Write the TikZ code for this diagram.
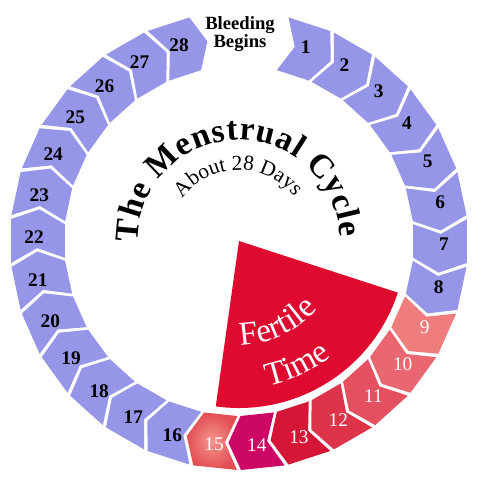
\documentclass[tikz,border=0pt]{standalone}
\usepackage{fontspec}
\setmainfont{Liberation Serif}
\usetikzlibrary{decorations.text}

\begin{document}
\begin{tikzpicture}[x=0.75pt,y=0.75pt,
  lavday/.style={fill={rgb, 255:red, 150; green, 150; blue, 232 }},
  daynum/.style={inner sep=0.75pt,font=\fontsize{14.5}{14.5}\selectfont\bfseries},
  rednum/.style={inner sep=0.75pt,text=white,font=\fontsize{14.5}{14.5}\selectfont},
  fertile/.style={fill={rgb, 255:red, 222; green, 10; blue, 48 }},
  pics/chevron/.style={code={
    \path[pic actions] ({#1+5.5}:229) -- ({#1+2}:202) -- ({#1+5.5}:175)
      -- ({#1-5.5}:175) -- ({#1-9}:202) -- ({#1-5.5}:229) -- cycle;}}
]
%picture is 478 x 480, ring centre at the origin
\useasboundingbox (-239,-239) rectangle (239,241);
\coordinate (ctr) at (0,0);

%Fertile sector
\fill [fertile] (ctr) -- (-98:167) arc [start angle=-98, end angle=-18, radius=167] -- cycle;

%Chevrons, days 1 to 8
\pic [lavday] {chevron=72};
\pic [lavday] {chevron=60};
\pic [lavday] {chevron=48};
\pic [lavday] {chevron=36};
\pic [lavday] {chevron=24};
\pic [lavday] {chevron=12};
\pic [lavday] {chevron=0};
\pic [lavday] {chevron=-12};
%Chevrons, days 9 to 15
\pic [fill={rgb, 255:red, 240; green, 125; blue, 125 }] {chevron=-24};
\pic [fill={rgb, 255:red, 234; green, 102; blue, 112 }] {chevron=-36};
\pic [fill={rgb, 255:red, 228; green, 80; blue, 96 }] {chevron=-48};
\pic [fill={rgb, 255:red, 222; green, 52; blue, 74 }] {chevron=-60};
\pic [fill={rgb, 255:red, 214; green, 22; blue, 55 }] {chevron=-72};
\pic [fill={rgb, 255:red, 204; green, 8; blue, 100 }] {chevron=-84};
\pic [inner color={rgb, 255:red, 246; green, 150; blue, 140 }, outer color={rgb, 255:red, 226; green, 78; blue, 84 }] {chevron=-96};
%Chevrons, days 16 to 28
\pic [lavday] {chevron=-108};
\pic [lavday] {chevron=-120};
\pic [lavday] {chevron=-132};
\pic [lavday] {chevron=-144};
\pic [lavday] {chevron=-156};
\pic [lavday] {chevron=-168};
\pic [lavday] {chevron=180};
\pic [lavday] {chevron=168};
\pic [lavday] {chevron=156};
\pic [lavday] {chevron=144};
\pic [lavday] {chevron=132};
\pic [lavday] {chevron=120};
\pic [lavday] {chevron=108};

% Text Node
\node [daynum] (d1) at (71:205) {1};
\node [daynum] (d2) at (59:205) {2};
\node [daynum] (d3) at (47:205) {3};
\node [daynum] (d4) at (35:205) {4};
\node [daynum] (d5) at (23:205) {5};
\node [daynum] (d6) at (11:205) {6};
\node [daynum] (d7) at (-1:205) {7};
\node [daynum] (d8) at (-13:205) {8};
\node [rednum] (d9) at (-25:205) {9};
\node [rednum] (d10) at (-37:205) {10};
\node [rednum] (d11) at (-49:205) {11};
\node [rednum] (d12) at (-61:205) {12};
\node [rednum] (d13) at (-73:205) {13};
\node [rednum] (d14) at (-85:205) {14};
\node [rednum] (d15) at (-97:205) {15};
\node [daynum] (d16) at (-109:205) {16};
\node [daynum] (d17) at (-121:205) {17};
\node [daynum] (d18) at (-133:205) {18};
\node [daynum] (d19) at (-145:205) {19};
\node [daynum] (d20) at (-157:205) {20};
\node [daynum] (d21) at (-169:205) {21};
\node [daynum] (d22) at (179:205) {22};
\node [daynum] (d23) at (167:205) {23};
\node [daynum] (d24) at (155:205) {24};
\node [daynum] (d25) at (143:205) {25};
\node [daynum] (d26) at (131:205) {26};
\node [daynum] (d27) at (119:205) {27};
\node [daynum] (d28) at (107:205) {28};

% Text Node
\node [align=center, inner sep=0.75pt, font=\fontsize{14}{13.5}\selectfont\bfseries] (bleed) at (1,207) {Bleeding\\Begins};

%Curved titles
\path [decorate, decoration={text along path, text align={fit to path},
  text={|\fontsize{25}{25}\selectfont\bfseries|The Menstrual Cycle}}]
  (181:101) arc [start angle=181, end angle=2, radius=101];
\path [decorate, decoration={text along path, text align={fit to path},
  text={|\fontsize{16}{16}\selectfont|About 28 Days}}]
  (143:71) arc [start angle=143, end angle=39, radius=71];
\path [decorate, decoration={text along path, text align=center, text color=white,
  text={|\fontsize{25}{25}\selectfont|Fertile}}]
  (-110:104) arc [start angle=-110, end angle=-20, radius=104];
\path [decorate, decoration={text along path, text align=center, text color=white,
  text={|\fontsize{25}{25}\selectfont|Time}}]
  (-110:148) arc [start angle=-110, end angle=-20, radius=148];

\end{tikzpicture}
\end{document}
